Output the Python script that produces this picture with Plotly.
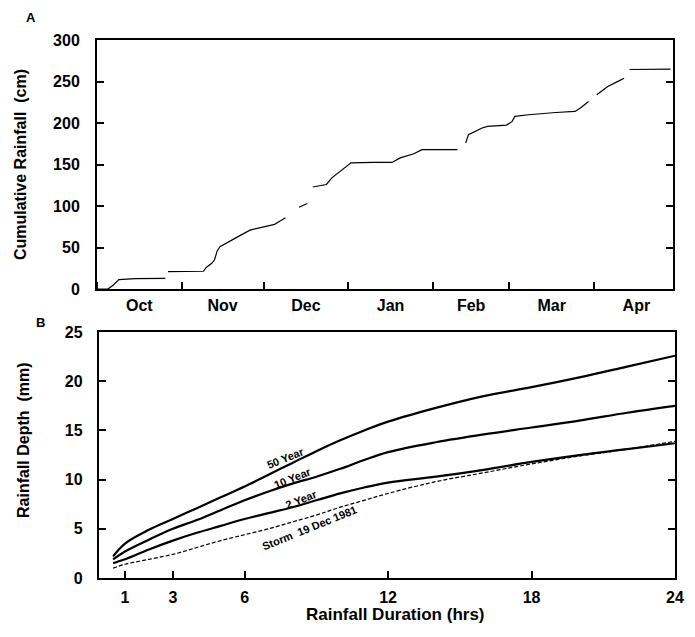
import plotly.graph_objects as go

# ---- Panel A: cumulative rainfall (cm), Oct 1981 - Apr 1982 ----
rain_dates = [
    "1981-10-01", "1981-10-05", "1981-10-07", "1981-10-09", "1981-10-15", "1981-10-26",
    "1981-10-26 12:00", "1981-10-27", "1981-11-09", "1981-11-10", "1981-11-12", "1981-11-13",
    "1981-11-14", "1981-11-15", "1981-11-18", "1981-11-21", "1981-11-26", "1981-12-01",
    "1981-12-05", "1981-12-06", "1981-12-09", "1981-12-11", "1981-12-14", "1981-12-17",
    "1981-12-18", "1981-12-19", "1981-12-24", "1981-12-26", "1981-12-30", "1982-01-02",
    "1982-01-10", "1982-01-17", "1982-01-20", "1982-01-25", "1982-01-28", "1982-02-10",
    "1982-02-11", "1982-02-13", "1982-02-14", "1982-02-19", "1982-02-21", "1982-02-28",
    "1982-03-02", "1982-03-03", "1982-03-08", "1982-03-18", "1982-03-25", "1982-03-27",
    "1982-03-30", "1982-03-31", "1982-04-02", "1982-04-06", "1982-04-09", "1982-04-12",
    "1982-04-13", "1982-04-14", "1982-04-29",
]
cum_rain = [
    0, 0, 5, 11.5, 12.5, 12.8,
    None, 21, 21.5, 26, 31, 35,
    46, 51, 56, 62, 71, 75,
    78, 80, 86, None, 98.5, 103,
    None, 123, 126, 134, 144, 152,
    152.5, 152.5, 158, 163, 168, 168,
    None, 176, 186, 194, 196, 197.5,
    202, 208, 210, 212.7, 214, 218,
    226, None, 234, 244, 249, 254,
    None, 264.5, 265,
]

# ---- Panel B: depth-duration curves (mm) ----
hours = [0.5, 1, 2, 3, 4, 5, 6, 7, 8, 9, 10, 11, 12, 14, 16, 18, 20, 22, 24]
y50 = [2.2, 3.5, 4.9, 6.0, 7.1, 8.2, 9.3, 10.5, 11.7, 12.9, 14.0, 15.0, 15.9, 17.3, 18.5, 19.4, 20.4, 21.5, 22.6]
y10 = [1.9, 2.7, 3.9, 5.0, 5.9, 6.9, 7.9, 8.8, 9.6, 10.3, 11.1, 12.0, 12.8, 13.8, 14.6, 15.3, 16.0, 16.8, 17.5]
y2 = [1.5, 1.9, 2.9, 3.8, 4.6, 5.3, 6.0, 6.6, 7.2, 7.9, 8.6, 9.2, 9.7, 10.3, 11.0, 11.8, 12.5, 13.1, 13.7]
storm = [1.0, 1.4, 1.9, 2.4, 3.1, 3.8, 4.4, 5.0, 5.7, 6.4, 7.2, 7.9, 8.6, 9.8, 10.7, 11.6, 12.4, 13.1, 13.9]

month_tick0 = "1981-10-01"
x_ticks_b = [1, 3, 6, 12, 18, 24]

FONT = "Liberation Sans, Arial, sans-serif"
tickfont = dict(family=FONT, size=16, color="black", weight="bold")

fig = go.Figure()
fig.add_trace(go.Scatter(x=rain_dates, y=cum_rain, mode="lines", connectgaps=False,
                         line=dict(color="black", width=1.2), xaxis="x", yaxis="y",
                         showlegend=False))
for ys, w, dash in [(y50, 2.2, "solid"), (y10, 2.2, "solid"), (y2, 2.2, "solid"), (storm, 1.2, "4px,2px")]:
    fig.add_trace(go.Scatter(x=hours, y=ys, mode="lines", line=dict(color="black", width=w, dash=dash),
                             line_shape="spline", xaxis="x2", yaxis="y2", showlegend=False))

axis_common = dict(showline=True, linewidth=2, linecolor="black", showgrid=False, zeroline=False,
                   ticks="inside", ticklen=7, tickwidth=1.5, tickcolor="black", tickfont=tickfont)

# page body has an 8px margin, so the figure is 8px smaller than the window
fig.update_layout(
    width=687, height=629,
    margin=dict(l=89, r=11, t=32, b=59),
    paper_bgcolor="white", plot_bgcolor="white",
    xaxis=dict(domain=[0, 0.997], anchor="y", type="date",
               range=["1981-10-01", "1982-04-30"], dtick="M1", tick0=month_tick0,
               tickformat="%b", ticklabelmode="period", mirror=True, ticklabelstandoff=1,
               **axis_common),
    yaxis=dict(domain=[0.537, 1], anchor="x", range=[0, 300], dtick=50, mirror="ticks",
               ticklabelstandoff=12, **axis_common),
    xaxis2=dict(domain=[0.003, 1], anchor="y2", range=[-0.1, 24], tickvals=x_ticks_b,
                mirror=True, ticklabelstandoff=4, **axis_common),
    yaxis2=dict(domain=[0, 0.457], anchor="x2", range=[0, 25], dtick=5, mirror="ticks",
                ticklabelstandoff=11, **axis_common),
)

ann_font = dict(family=FONT, size=16, color="black", weight="bold")
lab_font = dict(family=FONT, size=11, color="black", weight="bold")
fig.add_annotation(text="Cumulative Rainfall  (cm)", xref="paper", yref="paper", x=-0.131, y=0.768,
                   textangle=-90, showarrow=False, font=ann_font, xanchor="center", yanchor="middle")
fig.add_annotation(text="Rainfall Depth  (mm)", xref="paper", yref="paper", x=-0.128, y=0.2565,
                   textangle=-90, showarrow=False, font=ann_font, xanchor="center", yanchor="middle")
fig.add_annotation(text="Rainfall Duration (hrs)", xref="paper", yref="paper", x=0.516, y=-0.068,
                   showarrow=False, font=dict(family=FONT, size=17, color="black", weight="bold"),
                   xanchor="center", yanchor="middle")
fig.add_annotation(text="A", xref="paper", yref="paper", x=-0.114, y=1.041, showarrow=False,
                   xanchor="center", yanchor="middle",
                   font=dict(family=FONT, size=13, color="black", weight="bold"))
fig.add_annotation(text="B", xref="paper", yref="paper", x=-0.097, y=0.474, showarrow=False,
                   xanchor="center", yanchor="middle",
                   font=dict(family=FONT, size=13, color="black", weight="bold"))

for txt, hx, hy in [("50 Year", 7.7, 12.2), ("10 Year", 8.0, 10.2), ("2 Year", 8.4, 8.0),
                    ("Storm  19 Dec 1981", 8.7, 5.1)]:
    fig.add_annotation(text=txt, x=hx, y=hy, xref="x2", yref="y2", showarrow=False,
                       textangle=-22, font=lab_font)

fig.write_html("out.html")
